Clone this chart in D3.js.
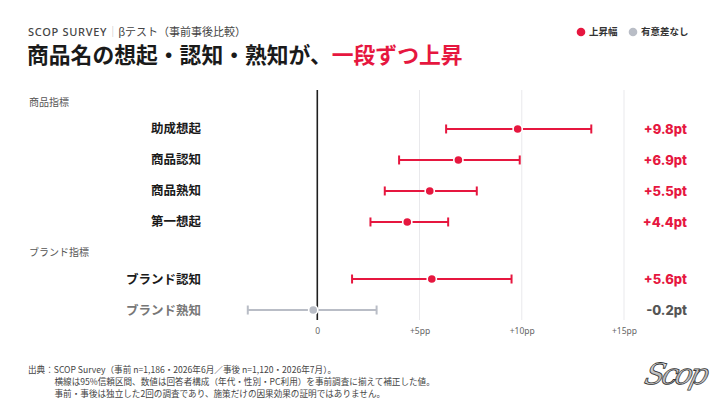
<!DOCTYPE html>
<html>
<head>
<meta charset="utf-8">
<script src="https://cdn.jsdelivr.net/npm/d3@7"></script>
<style>
html, body { margin: 0; padding: 0; background: #fff; }
svg { display: block; font-family: "Noto Sans CJK JP", "Noto Sans", sans-serif; }
</style>
</head>
<body>
<svg id="chart" width="720" height="405"></svg>
<script>
// data
var groups = ["商品指標", "ブランド指標"];
var categories = ["助成想起", "商品認知", "商品熟知", "第一想起", "ブランド認知", "ブランド熟知"];
var categoryGroup = [0, 0, 0, 0, 1, 1];
var lift = [9.8, 6.9, 5.5, 4.4, 5.6, -0.2];
var ciLow = [6.3, 4.0, 3.3, 2.6, 1.7, -3.4];
var ciHigh = [13.4, 9.9, 7.8, 6.4, 9.5, 2.9];
var significant = [true, true, true, true, true, false];
var liftLabels = ["+9.8pt", "+6.9pt", "+5.5pt", "+4.4pt", "+5.6pt", "-0.2pt"];
var tickValues = [0, 5, 10, 15];
var tickLabels = ["0", "+5pp", "+10pp", "+15pp"];

var RED = "#e6173f", GREY = "#b9bdc6";

var svg = d3.select("#chart");

// header
var head = svg.append("text").attr("x", 28).attr("y", 36)
    .style("font-size", "11px").attr("fill", "#444");
head.append("tspan").text("SCOP SURVEY").style("letter-spacing", "0.7px")
    .style("font-family", "'Noto Sans', sans-serif").style("font-weight", 500);
head.append("tspan").text("｜").attr("fill", "#bbb");
head.append("tspan").text("βテスト（事前事後比較）");

var title = svg.append("text").attr("x", 27).attr("y", 63)
    .style("font-size", "21.8px").style("font-weight", 700).attr("fill", "#1a1a1a");
title.append("tspan").text("商品名の想起・認知・熟知が、");
title.append("tspan").text("一段ずつ上昇").attr("fill", RED);

// legend
var legend = svg.append("g").style("font-size", "9.5px").style("font-weight", 700).attr("fill", "#333");
legend.append("circle").attr("cx", 581).attr("cy", 32).attr("r", 4.3).attr("fill", RED);
legend.append("text").attr("x", 589).attr("y", 32).attr("dy", "0.35em").text("上昇幅");
legend.append("circle").attr("cx", 633).attr("cy", 32).attr("r", 4.3).attr("fill", GREY);
legend.append("text").attr("x", 641).attr("y", 32).attr("dy", "0.35em").text("有意差なし");

// row layout: group header, then its items
var rows = [], pos = 0;
groups.forEach(function(g, gi) {
    if (gi > 0) pos += 0.97;
    rows.push({type: "group", label: g, pos: pos});
    pos += 0.87;
    categories.forEach(function(c, i) {
        if (categoryGroup[i] === gi) { rows.push({type: "item", i: i, pos: pos}); pos += 1; }
    });
    pos -= 1;
});

var x = d3.scaleLinear().domain([0, 15]).range([317.3, 624]);
var y = d3.scaleLinear().domain([0, 1]).range([102, 133]);
var plotTop = 90, plotBottom = 320;

// grid
svg.append("g").selectAll("line").data(tickValues.slice(1)).enter().append("line")
    .attr("x1", function(d) { return x(d); }).attr("x2", function(d) { return x(d); })
    .attr("y1", plotTop).attr("y2", plotBottom)
    .attr("stroke", "#e9e9ec").attr("stroke-width", 1);

svg.append("line").attr("x1", x(0)).attr("x2", x(0)).attr("y1", plotTop).attr("y2", plotBottom)
    .attr("stroke", "#1e1e1e").attr("stroke-width", 1.6);

// axis
var axis = svg.append("g").attr("transform", "translate(0," + 325 + ")")
    .call(d3.axisBottom(x).tickValues(tickValues).tickSize(0).tickPadding(3)
        .tickFormat(function(d, i) { return tickLabels[i]; }));
axis.select(".domain").remove();
axis.selectAll("text").attr("fill", "#666").style("font-size", "8.5px")
    .style("font-family", "'Noto Sans', sans-serif");

// group labels
svg.append("g").selectAll("text").data(rows.filter(function(r) { return r.type === "group"; }))
    .enter().append("text")
    .attr("x", 29).attr("y", function(r) { return y(r.pos); }).attr("dy", "0.35em")
    .style("font-size", "10px").attr("fill", "#555")
    .text(function(r) { return r.label; });

var items = rows.filter(function(r) { return r.type === "item"; });

// category labels
svg.append("g").selectAll("text").data(items).enter().append("text")
    .attr("x", 201).attr("y", function(r) { return y(r.pos); }).attr("dy", "0.36em")
    .attr("text-anchor", "end")
    .style("font-size", "12.5px").style("font-weight", 700)
    .attr("fill", function(r) { return significant[r.i] ? "#1a1a1a" : "#777"; })
    .text(function(r) { return categories[r.i]; });

// intervals
var bars = svg.append("g").selectAll("g").data(items).enter().append("g")
    .attr("transform", function(r) { return "translate(0," + y(r.pos) + ")"; })
    .attr("stroke", function(r) { return significant[r.i] ? RED : GREY; });

bars.append("line")
    .attr("x1", function(r) { return x(ciLow[r.i]); })
    .attr("x2", function(r) { return x(ciHigh[r.i]); })
    .attr("stroke-width", 2);
bars.append("line")
    .attr("x1", function(r) { return x(ciLow[r.i]); })
    .attr("x2", function(r) { return x(ciLow[r.i]); })
    .attr("y1", -4.5).attr("y2", 4.5).attr("stroke-width", 2);
bars.append("line")
    .attr("x1", function(r) { return x(ciHigh[r.i]); })
    .attr("x2", function(r) { return x(ciHigh[r.i]); })
    .attr("y1", -4.5).attr("y2", 4.5).attr("stroke-width", 2);
bars.append("circle")
    .attr("cx", function(r) { return x(lift[r.i]); })
    .attr("r", 4.6)
    .attr("fill", function(r) { return significant[r.i] ? RED : GREY; })
    .attr("stroke", "#fff").attr("stroke-width", 1.6);

// value labels
svg.append("g").selectAll("text").data(items).enter().append("text")
    .attr("x", 687).attr("y", function(r) { return y(r.pos); }).attr("dy", "0.36em")
    .attr("text-anchor", "end")
    .style("font-family", "Inter, 'Noto Sans', sans-serif")
    .style("font-size", "13px").style("font-weight", 800)
    .attr("fill", function(r) { return significant[r.i] ? RED : "#555"; })
    .text(function(r) { return liftLabels[r.i]; });

// footnote
var notes = [
    "出典：SCOP Survey（事前 n=1,186・2026年6月／事後 n=1,120・2026年7月）。",
    "横線は95%信頼区間、数値は回答者構成（年代・性別・PC利用）を事前調査に揃えて補正した値。",
    "事前・事後は独立した2回の調査であり、施策だけの因果効果の証明ではありません。"
];
svg.append("g").selectAll("text").data(notes).enter().append("text")
    .attr("x", function(d, i) { return i === 0 ? 28 : 54.5; })
    .attr("y", function(d, i) { return 370 + i * 11.8; }).attr("dy", "0.35em")
    .style("font-size", "8.6px").attr("fill", "#444")
    .text(function(d) { return d; });

// logo
var defs = svg.append("defs");
var grad = defs.append("linearGradient").attr("id", "chrome")
    .attr("x1", 0).attr("y1", 0).attr("x2", 0).attr("y2", 1);
grad.append("stop").attr("offset", "0%").attr("stop-color", "#ffffff");
grad.append("stop").attr("offset", "55%").attr("stop-color", "#b5b5b5");
grad.append("stop").attr("offset", "100%").attr("stop-color", "#f0f0f0");
svg.append("text").attr("x", 674).attr("y", 384).attr("text-anchor", "middle")
    .attr("transform", "skewX(-14) translate(95,0)")
    .style("font-family", "'DejaVu Serif', serif").style("font-style", "italic")
    .style("font-weight", 400).style("font-size", "29px").style("letter-spacing", "-3px")
    .attr("fill", "url(#chrome)").attr("stroke", "#333").attr("stroke-width", 0.8)
    .text("Scop");
</script>
</body>
</html>
